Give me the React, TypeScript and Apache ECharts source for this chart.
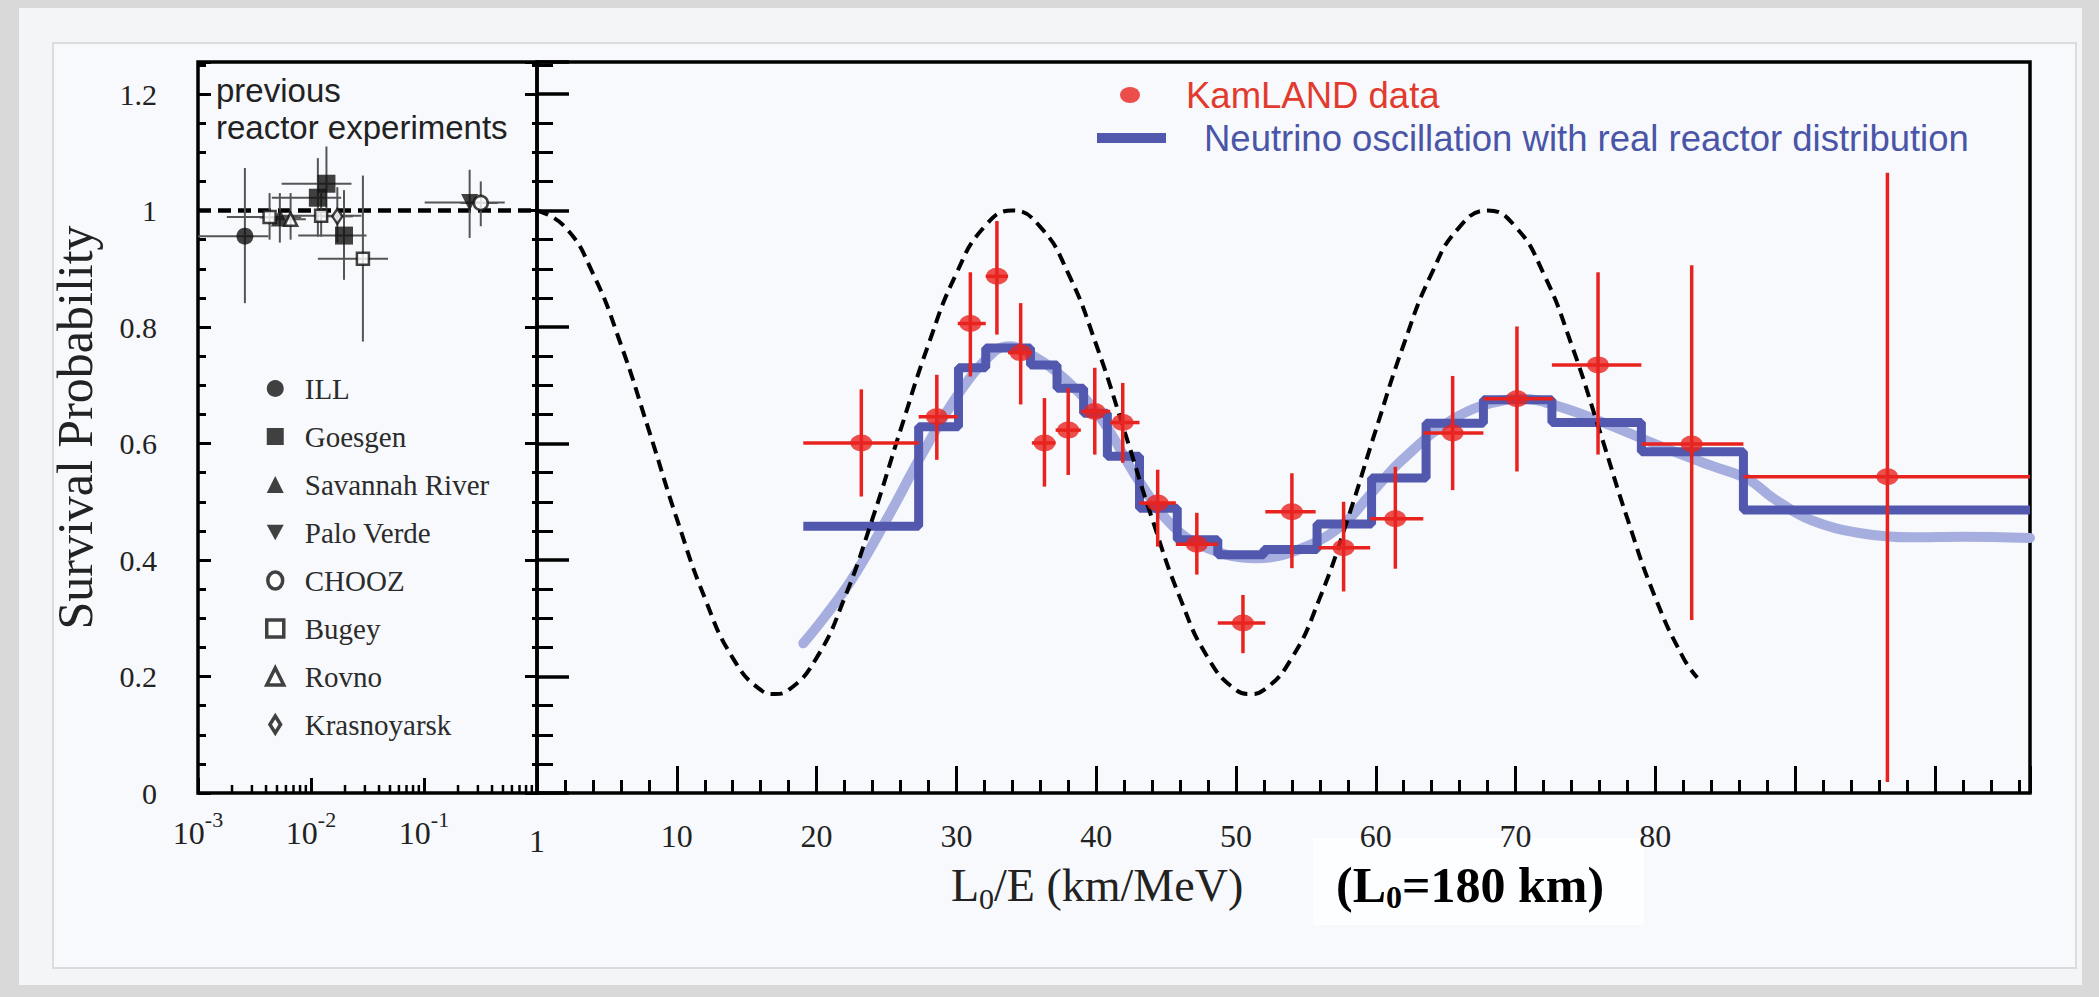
import React, { useEffect, useRef } from "react";
import * as echarts from "echarts";

// ---------- Axis ticks / labels ----------
const yLabels = [0, 0.2, 0.4, 0.6, 0.8, 1, 1.2];
const logDecades = [0.001, 0.01, 0.1, 1];
const logExponents = ["-3", "-2", "-1", ""];
const logMinorTicks = [
  0.002, 0.003, 0.004, 0.005, 0.006, 0.007, 0.008, 0.009,
  0.02, 0.03, 0.04, 0.05, 0.06, 0.07, 0.08, 0.09,
  0.2, 0.3, 0.4, 0.5, 0.6, 0.7, 0.8, 0.9,
];
const linearTickLabels = [10, 20, 30, 40, 50, 60, 70, 80];

// ---------- Previous reactor experiments: [x, y, xLow, xHigh, yLow, yHigh] ----------
const ILL = [[0.0026, 0.956, 0.001, 0.0042, 0.841, 1.073]];
const Goesgen = [
  [0.0115, 1.022, 0.0045, 0.0185, 0.955, 1.09],
  [0.0137, 1.046, 0.0055, 0.0228, 0.98, 1.11],
  [0.0196, 0.957, 0.0077, 0.031, 0.881, 1.035],
];
const SavannahRiver = [[0.0053, 0.988, 0.0035, 0.0082, 0.945, 1.03]];
const PaloVerde = [[0.2535, 1.014, 0.1014, 0.518, 0.953, 1.07]];
const CHOOZ = [[0.318, 1.013, 0.21, 0.45, 0.973, 1.05]];
const Bugey = [
  [0.0043, 0.989, 0.0018, 0.0077, 0.95, 1.03],
  [0.0123, 0.991, 0.0055, 0.028, 0.955, 1.03],
  [0.0288, 0.917, 0.0115, 0.048, 0.775, 1.06],
];
const Rovno = [[0.0066, 0.985, 0.0046, 0.009, 0.95, 1.03]];
const Krasnoyarsk = [[0.0171, 0.99, 0.0125, 0.0235, 0.945, 1.04]];
const noOscLeft = [[0.001, 1], [1, 1]];

// ---------- KamLAND data: [L0/E, P, xLow, xHigh, yLow, yHigh] ----------
const kamland = [
  [23.2, 0.601, 19.05, 27.3, 0.509, 0.693],
  [28.6, 0.646, 27.3, 30.1, 0.572, 0.718],
  [31.0, 0.806, 30.1, 32.1, 0.715, 0.894],
  [32.9, 0.887, 32.1, 33.7, 0.787, 0.982],
  [34.6, 0.756, 33.7, 35.4, 0.667, 0.841],
  [36.3, 0.601, 35.4, 37.1, 0.526, 0.678],
  [38.0, 0.623, 37.1, 38.9, 0.546, 0.695],
  [39.9, 0.655, 38.9, 41.0, 0.581, 0.73],
  [41.9, 0.636, 41.0, 43.1, 0.567, 0.704],
  [44.4, 0.498, 43.1, 45.7, 0.423, 0.555],
  [47.2, 0.427, 45.7, 48.7, 0.375, 0.481],
  [50.5, 0.292, 48.7, 52.1, 0.24, 0.34],
  [54.0, 0.483, 52.1, 55.7, 0.386, 0.549],
  [57.7, 0.421, 55.9, 59.6, 0.346, 0.5],
  [61.4, 0.471, 59.6, 63.4, 0.385, 0.56],
  [65.5, 0.618, 63.4, 67.7, 0.52, 0.716],
  [70.1, 0.677, 67.7, 72.7, 0.552, 0.801],
  [75.9, 0.735, 72.6, 79.0, 0.581, 0.894],
  [82.6, 0.599, 79.0, 86.3, 0.297, 0.906],
  [96.6, 0.543, 86.3, 106.8, 0.019, 1.065],
];

// ---------- Oscillation with real reactor distribution (histogram) ----------
const stepEdges = [19.05, 27.3, 30.15, 32.1, 35.3, 37.2, 39.1, 40.8, 43.1, 45.8, 48.7, 52.0, 55.8, 59.7, 63.6, 67.7, 72.6, 79.0, 86.3, 106.8];
const stepValues = [0.458, 0.629, 0.73, 0.764, 0.735, 0.695, 0.652, 0.578, 0.489, 0.435, 0.409, 0.418, 0.462, 0.541, 0.635, 0.675, 0.636, 0.586, 0.486, 0.486];

// ---------- Smooth (light blue) curve ----------
const smoothX = [19.05, 20.5, 22.5, 25, 27.6, 30.2, 32.7, 33.8, 35.3, 37.8, 40.4, 43, 45.5, 48, 51.4, 54.5, 57.5, 59.7, 61.9, 65.6, 69.3, 70.4, 72.9, 76.6, 80.3, 84, 86.6, 88.5, 91.1, 94.7, 98.4, 102, 106.8];
const smoothY = [0.257, 0.3, 0.366, 0.469, 0.584, 0.687, 0.758, 0.767, 0.753, 0.71, 0.641, 0.538, 0.458, 0.42, 0.403, 0.418, 0.458, 0.515, 0.572, 0.643, 0.675, 0.677, 0.665, 0.633, 0.596, 0.562, 0.539, 0.505, 0.469, 0.446, 0.439, 0.44, 0.438];

// ---------- Dashed curve (fixed L0) ----------
const dashX = [0, 2, 4, 6, 8, 10, 12, 14, 16, 17, 18, 20, 22, 24, 26, 28, 30, 32, 34, 36, 38, 40, 42, 44, 46, 48, 50, 51, 52, 54, 56, 58, 60, 62, 64, 66, 68, 70, 72, 74, 76, 78, 80, 82, 83];
const dashY = [1.0, 0.972, 0.892, 0.77, 0.623, 0.471, 0.335, 0.232, 0.177, 0.17, 0.177, 0.232, 0.335, 0.471, 0.623, 0.77, 0.892, 0.972, 1.0, 0.972, 0.892, 0.77, 0.623, 0.471, 0.335, 0.232, 0.177, 0.17, 0.177, 0.232, 0.335, 0.471, 0.623, 0.77, 0.892, 0.972, 1.0, 0.972, 0.892, 0.77, 0.623, 0.471, 0.335, 0.232, 0.198];

const SERIF = "Liberation Serif";
const SANS = "Liberation Sans";
const RED = "#e8231f";
const BLUE = "#5158ad";
const ELLIPSE = "path://M0,8A10,8 0 1,1 20,8A10,8 0 1,1 0,8Z";

const errRender = (color: string, w: number) => (params: any, api: any) => {
  const x = api.value(0);
  const y = api.value(1);
  const l = api.coord([api.value(2), y]);
  const r = api.coord([api.value(3), y]);
  const t = api.coord([x, api.value(5)]);
  const b = api.coord([x, api.value(4)]);
  return {
    type: "group",
    children: [
      { type: "line", shape: { x1: l[0], y1: l[1], x2: r[0], y2: r[1] }, style: { stroke: color, lineWidth: w } },
      { type: "line", shape: { x1: t[0], y1: t[1], x2: b[0], y2: b[1] }, style: { stroke: color, lineWidth: w } },
    ],
  };
};

const prevSeries = (name: string, data: number[][], symbol: string, size: any, filled: boolean, rotate = 0) => ({
  name,
  type: "scatter",
  xAxisIndex: 0,
  yAxisIndex: 0,
  data: data.map((d) => [d[0], d[1]]),
  symbol,
  symbolSize: size,
  symbolRotate: rotate,
  itemStyle: filled
    ? { color: "#111" }
    : { color: "#ffffff", borderColor: "#111", borderWidth: 2.5 },
  z: 6,
});

export default function App() {
  const ref = useRef<HTMLDivElement>(null);
  useEffect(() => {
    if (!ref.current) return;
    const chart = echarts.init(ref.current, undefined, { renderer: "svg" });
    const allPrev = [...ILL, ...Goesgen, ...SavannahRiver, ...PaloVerde, ...CHOOZ, ...Bugey, ...Rovno, ...Krasnoyarsk];
    const openIcon = { color: "#ffffff", borderColor: "#111", borderWidth: 3.5 };
    const prevLegend = [
      { name: "ILL", icon: "circle" },
      { name: "Goesgen", icon: "rect" },
      { name: "Savannah River", icon: "triangle" },
      { name: "Palo Verde", icon: "path://M0,0L20,0L10,18Z" },
      { name: "CHOOZ", icon: "path://M7,0A7,8 0 1,1 7,16A7,8 0 1,1 7,0Z", itemStyle: openIcon },
      { name: "Bugey", icon: "rect", itemStyle: openIcon },
      { name: "Rovno", icon: "triangle", itemStyle: openIcon },
      { name: "Krasnoyarsk", icon: "path://M5,0L10,8L5,16L0,8Z", itemStyle: openIcon },
    ];
    const yFmt = (v: number) => {
      for (const t of yLabels) if (Math.abs(v - t) < 1e-6) return String(t);
      return "";
    };
    const commonY = { min: 0, max: 1.255, interval: 0.2, splitLine: { show: false }, axisLine: { show: false } };
    const option: any = {
      animation: false,
      backgroundColor: "#d9d9d9",
      grid: [
        { left: 198, top: 62, width: 339, height: 731, show: true, borderColor: "#000", borderWidth: 3.5, backgroundColor: "transparent" },
        { left: 537, top: 62, width: 1493, height: 731, show: true, borderColor: "#000", borderWidth: 3.5, backgroundColor: "transparent" },
      ],
      xAxis: [
        {
          gridIndex: 0, type: "log", logBase: 10, min: 0.001, max: 1,
          axisLine: { show: false }, splitLine: { show: false },
          axisTick: { inside: true, length: 15, lineStyle: { color: "#000", width: 3 } },
          axisLabel: {
            margin: 15,
            formatter: (v: number) => {
              const idx = logDecades.findIndex((d) => Math.abs(Math.log10(d) - Math.log10(v)) < 1e-6);
              if (idx < 0) return "";
              if (idx === logDecades.length - 1) return "{one|1}";
              return "{b|10}{s|" + logExponents[idx] + "}";
            },
            rich: {
              b: { fontSize: 32, lineHeight: 50, fontFamily: SERIF, color: "#222" },
              s: { fontSize: 22, lineHeight: 20, verticalAlign: "top", fontFamily: SERIF, color: "#222" },
              one: { fontSize: 32, lineHeight: 66, fontFamily: SERIF, color: "#222" },
            },
          },
        },
        {
          gridIndex: 1, type: "value", min: 0, max: 106.8, interval: 10,
          axisLine: { show: false }, splitLine: { show: false },
          axisTick: { inside: true, length: 27, lineStyle: { color: "#000", width: 3 } },
          minorTick: { show: true, splitNumber: 5, length: 13, lineStyle: { color: "#000", width: 3 } },
          axisLabel: {
            margin: 18, fontSize: 32, lineHeight: 50, fontFamily: SERIF, color: "#222",
            formatter: (v: number) => (linearTickLabels.some((t) => Math.abs(t - v) < 1e-6) ? String(Math.round(v)) : ""),
          },
        },
      ],
      yAxis: [
        {
          ...commonY, gridIndex: 0, position: "left",
          axisTick: { inside: true, length: 13, lineStyle: { color: "#000", width: 3 } },
          minorTick: { show: true, splitNumber: 4, length: 8, lineStyle: { color: "#000", width: 3 } },
          axisLabel: { margin: 41, fontSize: 30, fontFamily: SERIF, color: "#222", formatter: yFmt },
          name: "Survival Probability", nameLocation: "middle", nameRotate: 90, nameGap: 98,
          nameTextStyle: { fontSize: 50, fontFamily: SERIF, color: "#222" },
        },
        {
          ...commonY, gridIndex: 0, position: "right",
          axisTick: { inside: true, length: 12, lineStyle: { color: "#000", width: 3 } },
          minorTick: { show: true, splitNumber: 4, length: 5, lineStyle: { color: "#000", width: 3 } },
          axisLabel: { show: false },
        },
        {
          ...commonY, gridIndex: 1, position: "left",
          axisTick: { inside: true, length: 32, lineStyle: { color: "#000", width: 3.5 } },
          minorTick: { show: true, splitNumber: 4, length: 16, lineStyle: { color: "#000", width: 3 } },
          axisLabel: { show: false },
        },
      ],
      legend: [
        {
          data: prevLegend, orient: "vertical", left: 265, top: 374, padding: 0,
          itemWidth: 17, itemHeight: 17, itemGap: 19, selectedMode: false, symbolKeepAspect: true,
          textStyle: { fontFamily: SERIF, fontSize: 29, color: "#2b2b2b", lineHeight: 28, padding: [0, 0, 0, 16] },
        },
        {
          data: [{ name: "KamLAND data", icon: ELLIPSE }], left: 1120, top: 75, padding: 0,
          itemWidth: 20, itemHeight: 16, selectedMode: false, symbolKeepAspect: false,
          textStyle: { fontFamily: SANS, fontSize: 36.5, color: "#e23b2e", lineHeight: 40, padding: [0, 0, 0, 41] },
        },
        {
          data: [{ name: "Neutrino oscillation with real reactor distribution", icon: "rect" }],
          left: 1097, top: 118, padding: 0,
          itemWidth: 69, itemHeight: 10, selectedMode: false,
          textStyle: { fontFamily: SANS, fontSize: 36.5, color: "#4a55a7", lineHeight: 40, padding: [0, 0, 0, 33] },
        },
      ],
      graphic: [
        { type: "rect", z: -100, silent: true, shape: { x: 19, y: 8, width: 2063, height: 977 }, style: { fill: "#f3f5f7" } },
        { type: "rect", z: -99, silent: true, shape: { x: 53, y: 43, width: 2023, height: 925 }, style: { fill: "#f7f9fc", stroke: "#dcdcdc", lineWidth: 2 } },
        { type: "rect", z: -98, silent: true, shape: { x: 1313, y: 838, width: 331, height: 87 }, style: { fill: "#fdfeff" } },
        {
          type: "text", x: 216, y: 72, silent: true,
          style: { text: "previous\nreactor experiments", fontSize: 33, fontFamily: SANS, fill: "#222", lineHeight: 37, align: "left", verticalAlign: "top" },
        },
        {
          type: "text", x: 951, y: 857, silent: true,
          style: {
            text: "{a|L}{s|0}{a|/E (km/MeV)}", align: "left", verticalAlign: "top",
            rich: {
              a: { fontSize: 46, lineHeight: 56, fontFamily: SERIF, fill: "#222" },
              s: { fontSize: 30, lineHeight: 18, verticalAlign: "bottom", fontFamily: SERIF, fill: "#222" },
            },
          },
        },
        {
          type: "text", x: 1336, y: 857, silent: true,
          style: {
            text: "{a|(L}{s|0}{a|=180 km)}", align: "left", verticalAlign: "top",
            rich: {
              a: { fontSize: 50, lineHeight: 56, fontWeight: "bold", fontFamily: SERIF, fill: "#000" },
              s: { fontSize: 32, lineHeight: 18, verticalAlign: "bottom", fontWeight: "bold", fontFamily: SERIF, fill: "#000" },
            },
          },
        },
      ],
      series: [
        // log-axis minor ticks
        {
          type: "custom", xAxisIndex: 0, yAxisIndex: 0, silent: true, z: 10,
          data: logMinorTicks.map((v) => [v, 0]),
          renderItem: (params: any, api: any) => {
            const p = api.coord([api.value(0), 0]);
            return { type: "line", shape: { x1: p[0], y1: p[1], x2: p[0], y2: p[1] - 8 }, style: { stroke: "#000", lineWidth: 2.5 } };
          },
        },
        // left panel no-oscillation line
        {
          type: "line", xAxisIndex: 0, yAxisIndex: 0, data: noOscLeft, symbol: "none", silent: true, z: 3,
          lineStyle: { color: "#000", width: 4.5, type: [13, 7] },
        },
        // previous experiments error bars
        {
          type: "custom", xAxisIndex: 0, yAxisIndex: 0, silent: true, z: 4,
          data: allPrev, encode: { x: [0, 2, 3], y: [1, 4, 5] },
          renderItem: errRender("#555", 2),
        },
        prevSeries("ILL", ILL, "circle", 17, true),
        prevSeries("Goesgen", Goesgen, "rect", 18, true),
        prevSeries("Savannah River", SavannahRiver, "triangle", 18, true),
        prevSeries("Palo Verde", PaloVerde, "triangle", 17, true, 180),
        prevSeries("CHOOZ", CHOOZ, "circle", 14, false),
        prevSeries("Bugey", Bugey, "rect", 12, false),
        prevSeries("Rovno", Rovno, "triangle", 13, false),
        prevSeries("Krasnoyarsk", Krasnoyarsk, "diamond", [10, 15], false),
        // light blue smooth curve
        {
          type: "line", xAxisIndex: 1, yAxisIndex: 2, symbol: "none", smooth: 0.4, silent: true, z: 2,
          data: smoothX.map((x, i) => [x, smoothY[i]]),
          lineStyle: { color: "#a6aedf", width: 10, cap: "round" },
        },
        // histogram
        {
          name: "Neutrino oscillation with real reactor distribution",
          type: "line", xAxisIndex: 1, yAxisIndex: 2, symbol: "none", step: "end", z: 3,
          color: BLUE,
          data: stepEdges.map((x, i) => [x, stepValues[i]]),
          lineStyle: { color: BLUE, width: 9 },
        },
        // dashed fixed-L curve
        {
          type: "line", xAxisIndex: 1, yAxisIndex: 2, symbol: "none", smooth: 0.5, silent: true, z: 4,
          data: dashX.map((x, i) => [x, dashY[i]]),
          lineStyle: { color: "#000", width: 4, type: [12, 7] },
        },
        // KamLAND error bars
        {
          type: "custom", xAxisIndex: 1, yAxisIndex: 2, silent: true, z: 5,
          data: kamland, encode: { x: [0, 2, 3], y: [1, 4, 5] },
          renderItem: errRender(RED, 3.5),
        },
        {
          name: "KamLAND data",
          type: "scatter", xAxisIndex: 1, yAxisIndex: 2, z: 6,
          data: kamland.map((d) => [d[0], d[1]]),
          symbol: ELLIPSE,
          symbolSize: [22, 17],
          itemStyle: { color: RED },
        },
      ],
    };
    chart.setOption(option);
    return () => chart.dispose();
  }, []);
  return <div ref={ref} style={{ position: "absolute", left: 0, top: 0, width: 2099, height: 997 }} />;
}
